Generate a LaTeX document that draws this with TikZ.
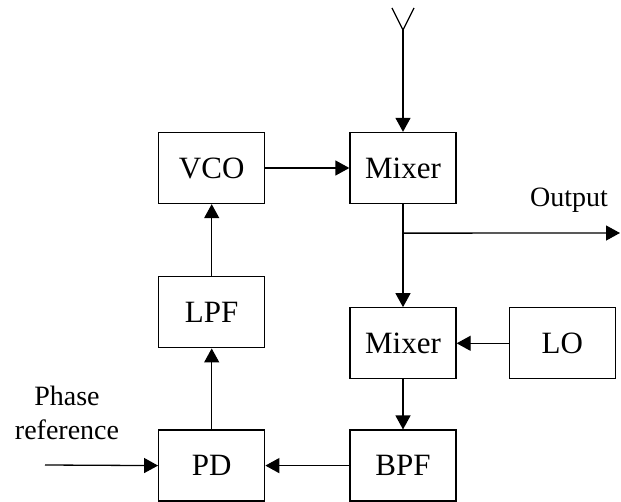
\documentclass[tikz,border=0pt]{standalone}
\usepackage{fontspec}
\setmainfont{Liberation Serif}
\usetikzlibrary{arrows.meta,positioning}

\begin{document}
\begin{tikzpicture}[
  x=1pt, y=-1pt,
  font=\fontsize{31}{34}\selectfont,
  block/.style={rectangle, draw, line width=1.3pt, minimum width=106pt, minimum height=71pt, inner sep=0pt},
  lbl/.style={font=\fontsize{28}{34}\selectfont, align=center, inner sep=0pt},
  wire/.style={line width=1.3pt},
  arrow/.style={wire, -{Triangle[length=14pt,width=15pt]}}
]
  \useasboundingbox (0,0) rectangle (621,502);

  % Blocks: receive path on the right, loop on the left
  \node[block] (mix1) at (403,168) {Mixer};
  \node[block, left=84pt of mix1] (vco) {VCO};
  \node[block, below=72pt of vco] (lpf) {LPF};
  \node[block, below=103pt of mix1] (mix2) {Mixer};
  \node[block, right=52pt of mix2] (lo) {LO};
  \node[block, below=50pt of mix2] (bpf) {BPF};
  \node[block, left=84pt of bpf] (pd) {PD};

  % Antenna into first mixer
  \coordinate (ant) at (403,30);
  \draw[wire] ([xshift=-11pt,yshift=22pt]ant) -- (ant) -- ([xshift=11pt,yshift=22pt]ant);
  \draw[arrow] (ant) -- (mix1.north);

  % Output tap
  \coordinate (split) at ([yshift=-29pt]mix1.south);
  \coordinate (outend) at (620,233);
  \node[lbl] (outlbl) at (569,200) {Output};
  \draw[arrow] (mix1.south) -- (mix2.north);
  \draw[arrow] (split) -- (outend);

  % Second conversion and filter
  \draw[arrow] (lo.west) -- (mix2.east);
  \draw[arrow] (mix2.south) -- (bpf.north);
  \draw[arrow] (bpf.west) -- (pd.east);

  % Phase reference input
  \node[lbl] (phref) at (67,413) {Phase\\reference};
  \coordinate (refin) at (45,465);
  \draw[arrow] (refin) -- (pd.west);

  % Loop back to VCO
  \draw[arrow] (pd.north) -- (lpf.south);
  \draw[arrow] (lpf.north) -- (vco.south);
  \draw[arrow] (vco.east) -- (mix1.west);
\end{tikzpicture}
\end{document}
